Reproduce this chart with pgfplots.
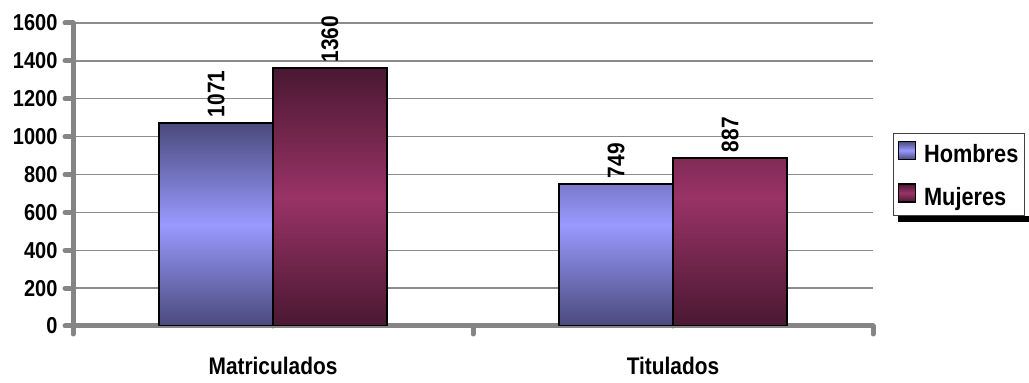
\documentclass[border=0pt]{standalone}
\usepackage{fontspec}
\setmainfont{Liberation Sans}[FakeStretch=0.87]
\usepackage{pgfplots}
\pgfplotsset{compat=1.18}
\definecolor{hl}{HTML}{9999FF}
\definecolor{hd}{HTML}{4A4A7C}
\definecolor{ml}{HTML}{993366}
\definecolor{md}{HTML}{4A1832}
\definecolor{axg}{HTML}{858585}
\definecolor{gridg}{HTML}{8C8C8C}
\begin{document}
\begin{tikzpicture}
\path[use as bounding box] (0,0) rectangle (1029pt,383pt);
\begin{axis}[
  at={(73pt,57pt)}, anchor=south west,
  scale only axis, width=800pt, height=303pt,
  xmin=-0.5, xmax=1.5, ymin=0, ymax=1600,
  ytick={0,200,...,1600},
  xtick={-0.5,0.5,1.5}, xticklabels={},
  extra x ticks={0,1}, extra x tick labels={Matriculados,Titulados},
  extra x tick style={major tick length=0pt, grid=none,
     xticklabel style={font=\fontsize{24}{28}\selectfont\bfseries, yshift=-28pt}},
  axis x line*=bottom, axis y line*=left,
  axis line style={-, draw=axg, line width=5pt, line cap=round},
  tick align=outside,
  major tick length=8pt,
  major tick style={draw=axg, line width=5pt, line cap=round},
  ymajorgrids, major grid style={draw=gridg, line width=1.3pt},
  /pgf/number format/assume math mode=true,
  /pgf/number format/1000 sep={},
  yticklabel style={font=\fontsize{23}{27}\selectfont\bfseries, xshift=-4pt},
  ybar,
  bar width=0.285,
  nodes near coords,
  every node near coord/.append style={rotate=90, anchor=west, text=black,
     font=\fontsize{24}{28}\selectfont\bfseries, inner sep=5pt},
  legend style={name=leg, at={(1.025,0.637)}, anchor=north west, draw=black!75, line width=1.2pt,
     font=\fontsize{25}{29}\selectfont\bfseries, row sep=17pt, inner xsep=4pt, inner ysep=7pt,
     legend cell align=left,
     /tikz/every odd column/.append style={column sep=6pt}},
]
\addplot[bar shift=-0.1425, draw=black, line width=2pt,
  top color=hd, bottom color=hd, middle color=hl,
  legend image code/.code={\draw[top color=hd, bottom color=hd, middle color=hl, draw=black, line width=1.5pt] (0pt,-5pt) rectangle (17pt,13pt);}]
  coordinates {(0,1071) (1,749)};
\addlegendentry{Hombres\hspace{30pt}}
\addplot[bar shift=0.1425, draw=black, line width=2pt,
  top color=md, bottom color=md, middle color=ml,
  legend image code/.code={\draw[top color=md, bottom color=md, middle color=ml, draw=black, line width=1.5pt] (0pt,-5pt) rectangle (17pt,13pt);}]
  coordinates {(0,1360) (1,887)};
\addlegendentry{Mujeres}
\end{axis}
\fill[black] ([xshift=5pt]leg.south west) rectangle ([xshift=5pt,yshift=-6pt]leg.south east);
\end{tikzpicture}
\end{document}
